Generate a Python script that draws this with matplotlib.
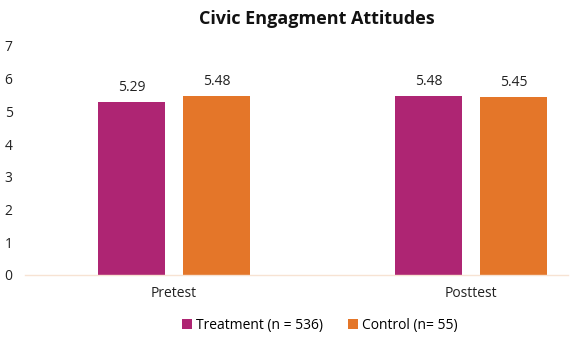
import numpy as np
import matplotlib.pyplot as plt

plt.rcParams['font.family'] = ['Open Sans', 'DejaVu Sans']

categories = ["Pretest", "Posttest"]
treatment = [5.29, 5.48]
control = [5.48, 5.45]
series_labels = ["Treatment (n = 536)", "Control (n= 55)"]
colors = ["#AE2573", "#E47629"]

fig = plt.figure(figsize=(5.7, 3.45), dpi=100)
ax = fig.add_axes([0.044, 0.203, 0.953, 0.664])

x = np.arange(len(categories))
w = 0.225
off = 0.143
b1 = ax.bar(x - off, treatment, w, color=colors[0], label=series_labels[0])
b2 = ax.bar(x + off, control, w, color=colors[1], label=series_labels[1])

for bars in (b1, b2):
    for rect in bars:
        h = rect.get_height()
        ax.annotate(f"{h:.2f}", (rect.get_x() + rect.get_width() / 2, h),
                    xytext=(0, 5), textcoords="offset points",
                    ha="center", va="bottom", fontsize=10, color="#222222")

ax.set_ylim(0, 7)
ax.set_xlim(-0.502, 1.327)
ax.set_yticks(range(8))
ax.set_xticks(x)
ax.set_xticklabels(categories)
ax.tick_params(length=0, labelsize=10, colors="#222222")
ax.tick_params(axis="y", pad=9)
ax.tick_params(axis="x", pad=8)

for s in ("top", "right", "left"):
    ax.spines[s].set_visible(False)
ax.spines["bottom"].set_color("#F7E3D3")
ax.spines["bottom"].set_linewidth(1)

fig.suptitle("Civic Engagment Attitudes", fontsize=13, fontweight="bold",
             y=0.97, x=0.555, color="#111111")

fig.legend(handles=[b1, b2], loc="center", bbox_to_anchor=(0.561, 0.056), ncol=2,
           frameon=False, fontsize=10, handlelength=0.7, handleheight=0.7,
           handletextpad=0.3, columnspacing=1.8)

fig.savefig("out.png", dpi=100)
